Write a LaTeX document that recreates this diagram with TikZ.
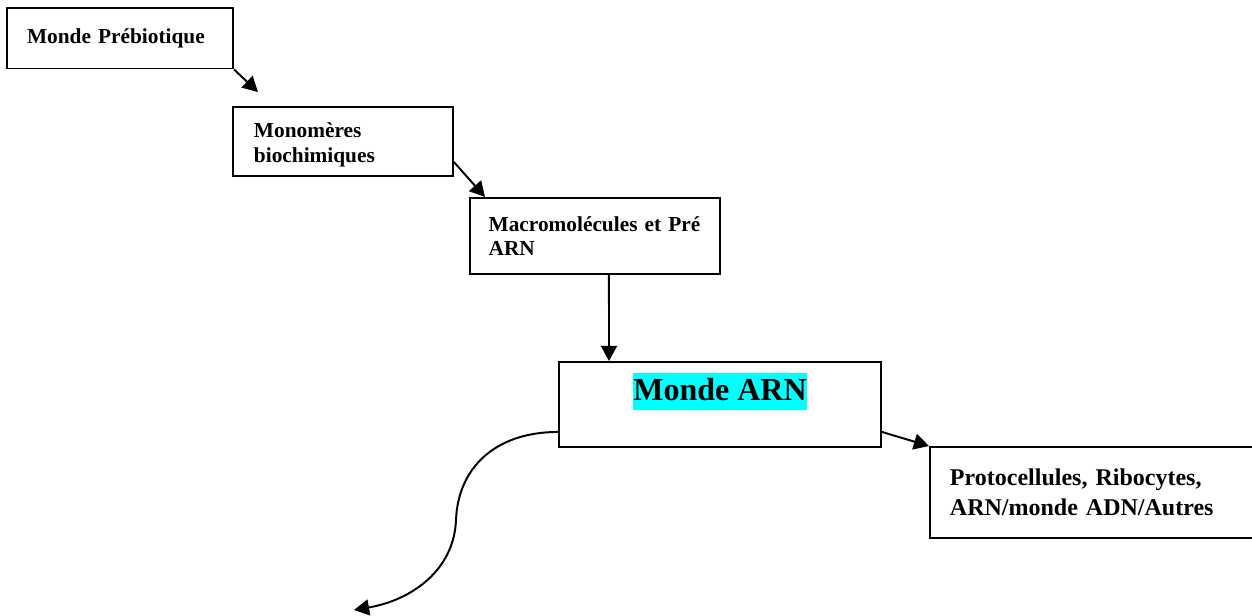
\documentclass[tikz,border=0pt]{standalone}
\usepackage{fontspec}
\setmainfont{Liberation Serif}
\usetikzlibrary{arrows.meta,calc}
\definecolor{fondcyan}{RGB}{0,255,255}

\begin{document}
\begin{tikzpicture}[x=0.5625pt,y=-0.5625pt,
    boite/.style={draw, line width=1.1pt, anchor=north west, align=left, inner ysep=0pt,
      font=\fontsize{12}{13.8}\selectfont\bfseries},
    fleche/.style={-{Triangle[length=8.5pt,width=9pt]}, line width=1.1pt}]
        \useasboundingbox (0,0) rectangle (1252,615);
        \clip (0,0) rectangle (1252,615);

        \node[boite, text width=104.4pt, inner xsep=11.5pt, minimum height=34.2pt] (prebio) at (5.6,6.7) {Monde Prébiotique};
        \node[boite, text width=100.1pt, inner xsep=11.8pt, minimum height=38.8pt] (mono) at (232,106) {\rule{0pt}{12pt}Monomères\\biochimiques};
        \node[boite, text width=119.6pt, inner xsep=10.5pt, minimum height=42.75pt] (macro) at (469,197) {Macromolécules et Pré\\ARN};
        \node[draw, line width=1.1pt, anchor=north west, inner sep=0pt, minimum width=181.1pt, minimum height=47.8pt,
              text height=15.75pt, text depth=19.7pt, font=\fontsize{18}{20.7}\selectfont\bfseries]
              (monde) at (558,361) {{\setlength{\fboxsep}{0pt}\colorbox{fondcyan}{\rule[-5.06pt]{0pt}{20.81pt}Monde ARN}}\hspace{6.75pt}};
        \node[boite, text width=180pt, inner xsep=11.25pt, minimum height=51.2pt,
              font=\fontsize{13.5}{16.9}\selectfont\bfseries] (proto) at (929,446) {Protocellules, Ribocytes,\\ARN/monde ADN/Autres};

        \coordinate (p1) at (258,92);
        \coordinate (p2) at (354,610);

        \draw[fleche] (prebio.south east) -- (p1);
        \draw[fleche] ($(mono.south east)+(0,-15)$) -- ($(macro.north west)+(16,0)$);
        \draw[fleche] ($(macro.south)+(14,0)$) -- ($(monde.north west)+(51,0)$);
        \draw[fleche] ($(monde.south east)+(0,-16)$) -- (proto.north west);
        \draw[fleche] ($(monde.south west)+(0,-16)$) .. controls (495,432) and (458,468) .. (456,520)
              .. controls (454,570) and (412,600) .. (p2);

\end{tikzpicture}
\end{document}
